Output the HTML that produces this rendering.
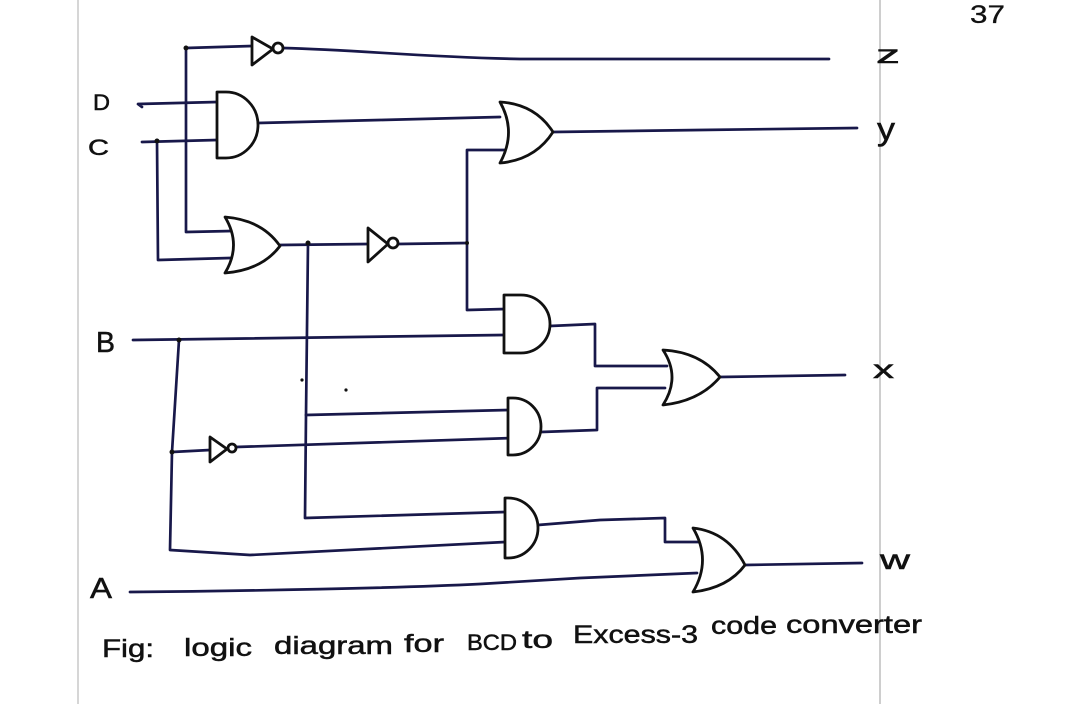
<!DOCTYPE html>
<html>
<head>
<meta charset="utf-8">
<style>
  html,body{margin:0;padding:0;background:#fff;}
  body{width:1080px;height:704px;overflow:hidden;}
  svg{display:block;}
  text{font-family:"Liberation Sans",sans-serif;fill:#111;stroke:#111;stroke-width:0.5;}
</style>
</head>
<body>
<svg width="1080" height="704" viewBox="0 0 1080 704" xmlns="http://www.w3.org/2000/svg">
  <rect width="1080" height="704" fill="#fff"/>
  <!-- page margin lines -->
  <line x1="78" y1="0" x2="78" y2="704" stroke="#c9c9c9" stroke-width="1.5"/>
  <line x1="880" y1="0" x2="880" y2="704" stroke="#bdbdbd" stroke-width="1.5"/>

  <!-- wires -->
  <g fill="none" stroke="#18184a" stroke-width="2.7" stroke-linejoin="round" stroke-linecap="round">
    <!-- z path -->
    <polyline points="186,48 252,46"/>
    <path d="M283,48 C360,50 420,57 520,59 L829,59"/>
    <polyline points="186,48 186,232 232,231"/>
    <!-- D -->
    <polyline points="142,107 138,104 217,102"/>
    <!-- C -->
    <polyline points="142,142 217,140"/>
    <polyline points="157,141 158,260 230,258"/>
    <!-- AND1 out to OR2 -->
    <polyline points="258,123 380,120 500,117"/>
    <!-- OR2 bottom input / vertical -->
    <polyline points="505,150 467,150 467,310 505,309"/>
    <!-- y out -->
    <polyline points="553,132 700,130 857,128"/>
    <!-- OR1 out -> NOT2 -->
    <polyline points="280,245 368,244"/>
    <polyline points="398,244 467,243"/>
    <!-- vertical from OR1 out -->
    <polyline points="308,243 306,415 305,518 505,512"/>
    <polyline points="306,415 508,410"/>
    <!-- B -->
    <polyline points="133,340 503,335"/>
    <polyline points="179,340 172,452 170,550 250,555 505,542"/>
    <!-- NOT3 -->
    <polyline points="172,452 210,450"/>
    <polyline points="236,447 513,438"/>
    <!-- A -->
    <path d="M130,592 C250,591 400,588 480,584 L580,578 L697,573"/>
    <!-- AND2 out -->
    <polyline points="550,326 595,324 595,366 667,366"/>
    <!-- AND3 out -->
    <polyline points="541,432 597,430 597,388 665,388"/>
    <!-- OR3 out -->
    <polyline points="720,377 845,375"/>
    <!-- AND4 out -->
    <polyline points="538,525 600,520 665,518 665,542 700,542"/>
    <!-- OR4 out -->
    <polyline points="745,565 862,563"/>
  </g>

  <!-- gates -->
  <g fill="#fff" stroke="#111" stroke-width="2.8" stroke-linejoin="round">
    <!-- NOT1 -->
    <path d="M252,37 L252,65 L273,49 Z"/>
    <circle cx="278" cy="48" r="5"/>
    <!-- AND1 -->
    <path d="M217,92 H226 A32,33 0 0 1 226,158 H217 Z"/>
    <!-- OR2 -->
    <path d="M500,102 Q517,132 500,163 Q535,160 553,132 Q535,104 500,102 Z"/>
    <!-- OR1 -->
    <path d="M225,217 Q242,245 225,273 Q262,270 280,246 Q262,220 225,217 Z"/>
    <!-- NOT2 -->
    <path d="M368,228 L368,262 L388,244 Z"/>
    <circle cx="393" cy="243" r="5"/>
    <!-- NOT3 -->
    <path d="M210,437 L210,462 L227,449 Z"/>
    <circle cx="232" cy="448" r="4"/>
    <!-- AND2 -->
    <path d="M504,295 H521 A29,29 0 0 1 521,353 H504 Z"/>
    <!-- AND3 -->
    <path d="M508,398 H513 A28,28.5 0 0 1 513,455 H508 Z"/>
    <!-- AND4 -->
    <path d="M505,498 H508 A30,30 0 0 1 508,558 H505 Z"/>
    <!-- OR3 -->
    <path d="M663,350 Q681,377 663,405 Q700,401 720,377 Q700,352 663,350 Z"/>
    <!-- OR4 -->
    <path d="M693,528 Q712,560 693,592 Q728,588 745,565 Q728,532 693,528 Z"/>
  </g>

  <!-- junction dots -->
  <g fill="#111">
    <circle cx="186" cy="48" r="2.5"/>
    <circle cx="157" cy="141" r="2.5"/>
    <circle cx="308" cy="243" r="2.5"/>
    <circle cx="179" cy="340" r="2.5"/>
    <circle cx="172" cy="452" r="2.5"/>
    <circle cx="467" cy="243" r="2"/>
    <circle cx="302" cy="380" r="1.6"/>
    <circle cx="346" cy="390" r="1.6"/>
  </g>

  <!-- input labels -->
  <text x="93" y="110" font-size="22" textLength="17" lengthAdjust="spacingAndGlyphs">D</text>
  <text x="88" y="155" font-size="22" textLength="21" lengthAdjust="spacingAndGlyphs">C</text>
  <text x="96" y="352" font-size="29" textLength="19" lengthAdjust="spacingAndGlyphs">B</text>
  <text x="90" y="598" font-size="29" textLength="22" lengthAdjust="spacingAndGlyphs">A</text>

  <!-- output labels -->
  <text x="876" y="63" font-size="26" textLength="24" lengthAdjust="spacingAndGlyphs">z</text>
  <text x="877" y="140" font-size="32" textLength="18" lengthAdjust="spacingAndGlyphs">y</text>
  <text x="873" y="378" font-size="26" textLength="21" lengthAdjust="spacingAndGlyphs">x</text>
  <text x="880" y="569" font-size="28" textLength="30" lengthAdjust="spacingAndGlyphs">w</text>

  <!-- page number -->
  <text x="970" y="23" font-size="25" textLength="35" lengthAdjust="spacingAndGlyphs" style="stroke-width:0.3">37</text>

  <!-- caption -->
  <g font-size="25">
    <text x="102" y="657" textLength="52" lengthAdjust="spacingAndGlyphs">Fig:</text>
    <text x="184" y="656" textLength="68" lengthAdjust="spacingAndGlyphs">logic</text>
    <text x="274" y="654" textLength="119" lengthAdjust="spacingAndGlyphs">diagram</text>
    <text x="404" y="652" textLength="40" lengthAdjust="spacingAndGlyphs">for</text>
    <text x="467" y="650" font-size="22" textLength="50" lengthAdjust="spacingAndGlyphs">BCD</text>
    <text x="522" y="648" textLength="31" lengthAdjust="spacingAndGlyphs">to</text>
    <text x="573" y="643" textLength="125" lengthAdjust="spacingAndGlyphs">Excess-3</text>
    <text x="711" y="634" textLength="66" lengthAdjust="spacingAndGlyphs">code</text>
    <text x="786" y="633" textLength="136" lengthAdjust="spacingAndGlyphs">converter</text>
  </g>
</svg>
</body>
</html>
